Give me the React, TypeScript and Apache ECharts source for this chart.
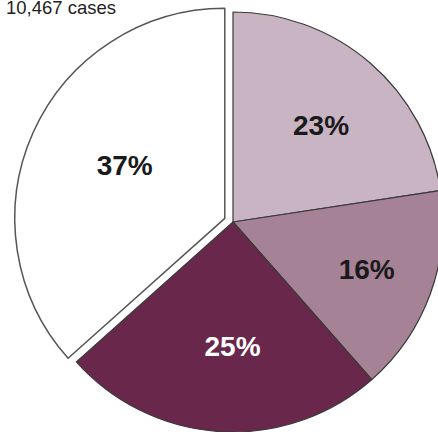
import React, { useEffect, useRef } from "react";
import * as echarts from "echarts";

const TITLE = "10,467 cases";
const CATEGORIES = ["Group A", "Group B", "Group C", "Group D"];
const VALUES = [22.6, 15.9, 24.9, 36.6];
const LABELS = ["23%", "16%", "25%", "37%"];
const COLORS = ["#c8b4c3", "#a58296", "#69284b", "#ffffff"];
const LABEL_COLORS = ["#1a1a1a", "#1a1a1a", "#ffffff", "#1a1a1a"];
const EXPLODED = [false, false, false, true];

const CX = 233;
const CY = 222;
const R = 210;
const OFFSET = 9;
// label placement style: fraction of radius and angular shift (degrees)
const LABEL_R = [0.622, 0.675, 0.594, 0.538];
const LABEL_SHIFT = [1.7, -0.6, -3.2, 3.5];
const FONT = "Arial, 'Liberation Sans', Helvetica, sans-serif";

export default function App() {
  const ref = useRef<HTMLDivElement>(null);
  useEffect(() => {
    if (!ref.current) return;
    const chart = echarts.init(ref.current, null, { renderer: "svg" });
    const total = VALUES.reduce((a, b) => a + b, 0);
    const cum: number[] = [];
    let s = 0;
    VALUES.forEach((v) => {
      cum.push(s);
      s += v;
    });
    chart.setOption({
      animation: false,
      backgroundColor: "#ffffff",
      title: {
        text: TITLE,
        left: 6,
        top: -2,
        padding: 0,
        textStyle: { fontSize: 18.5, fontWeight: "normal", color: "#222", fontFamily: FONT },
      },
      series: [
        {
          type: "pie",
          center: [CX, CY],
          radius: R,
          startAngle: 90,
          clockwise: true,
          selectedMode: "single",
          selectedOffset: OFFSET,
          avoidLabelOverlap: false,
          emphasis: { disabled: true },
          label: {
            show: true,
            position: "inside",
            fontSize: 28,
            fontWeight: "bold",
            fontFamily: FONT,
            formatter: (p: any) => LABELS[p.dataIndex],
          },
          labelLine: { show: false },
          labelLayout: (p: any) => {
            const i = p.dataIndex;
            const mid =
              ((cum[i] + VALUES[i] / 2) / total) * Math.PI * 2 +
              (LABEL_SHIFT[i] * Math.PI) / 180;
            const d = LABEL_R[i] * R;
            const tx = CX + Math.sin(mid) * d;
            const ty = CY - Math.cos(mid) * d;
            const lr = p.labelRect;
            return { dx: tx - (lr.x + lr.width / 2), dy: ty - (lr.y + lr.height / 2) };
          },
          data: VALUES.map((v, i) => {
            const itemStyle = {
              color: COLORS[i],
              borderColor: EXPLODED[i] ? "#555" : "#3a3a3a",
              borderWidth: EXPLODED[i] ? 1.5 : 1.2,
            };
            return {
              name: CATEGORIES[i],
              value: v,
              selected: EXPLODED[i],
              itemStyle,
              select: { itemStyle, label: { color: LABEL_COLORS[i] } },
              label: { color: LABEL_COLORS[i] },
            };
          }),
        },
      ],
    });
    return () => chart.dispose();
  }, []);
  return (
    <div
      ref={ref}
      style={{ position: "absolute", left: 0, top: 0, width: 438, height: 432 }}
    />
  );
}
